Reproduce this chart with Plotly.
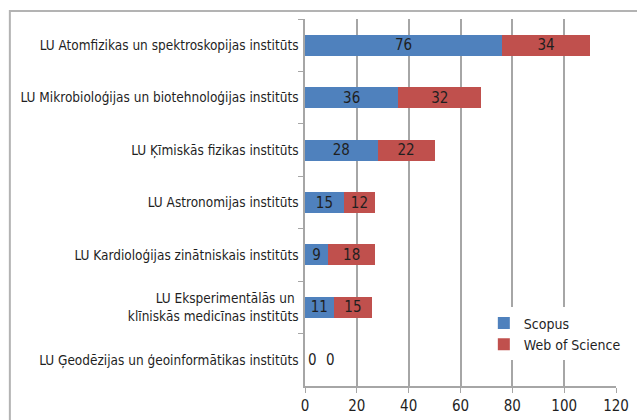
import plotly.graph_objects as go

categories = [
    "LU Atomfizikas un spektroskopijas institūts",
    "LU Mikrobioloģijas un biotehnoloģijas institūts",
    "LU Ķīmiskās fizikas institūts",
    "LU Astronomijas institūts",
    "LU Kardioloģijas zinātniskais institūts",
    "LU Eksperimentālās un <br>klīniskās medicīnas institūts",
    "LU Ģeodēzijas un ģeoinformātikas institūts",
]
scopus = [76, 36, 28, 15, 9, 11, 0]
wos = [34, 32, 22, 12, 18, 15, 0]
x_ticks = [0, 20, 40, 60, 80, 100, 120]

FONT = "DejaVu Sans Condensed, Liberation Sans Narrow, sans-serif"
TXT = "#1f1f1f"
BARFONT = dict(color=TXT, size=15, family=FONT)

fig = go.Figure()
fig.add_trace(go.Bar(
    y=categories, x=scopus, orientation="h", name="Scopus",
    marker=dict(color="#4F81BD", line=dict(width=0)),
    text=[str(v) if v else "" for v in scopus], textposition="inside",
    insidetextanchor="middle", textfont=BARFONT, textangle=0,
    constraintext="none",
))
fig.add_trace(go.Bar(
    y=categories, x=wos, orientation="h", name="Web of Science",
    marker=dict(color="#C0504D", line=dict(width=0)),
    text=[str(v) if v else "" for v in wos], textposition="inside",
    insidetextanchor="middle", textfont=BARFONT, textangle=0,
    constraintext="none",
))

# zero-value labels (bars of zero width can't hold inside text)
for cat, s, w in zip(categories, scopus, wos):
    if s == 0:
        fig.add_annotation(x=0, y=cat, text=str(s), showarrow=False, xanchor="center",
                           xshift=7, font=BARFONT)
    if w == 0:
        fig.add_annotation(x=s, y=cat, text=str(w), showarrow=False, xanchor="center",
                           xshift=25, font=BARFONT)

# outer chart border (only top and left edges fall inside the picture)
fig.add_shape(type="rect", xref="paper", yref="paper",
              x0=-0.949, x1=1.12, y0=-0.14, y1=1.022,
              line=dict(color="#B3B3B3", width=2), fillcolor="rgba(0,0,0,0)", layer="above")

fig.update_layout(
    width=637, height=420,
    barmode="stack", bargap=0.6,
    margin=dict(l=305, r=21, t=19, b=34, autoexpand=False),
    paper_bgcolor="white", plot_bgcolor="white",
    font=dict(family=FONT, size=13.5, color=TXT),
    uniformtext=dict(mode="show", minsize=15),
    legend=dict(x=0.575, y=0.214, xanchor="left", yanchor="top", traceorder="normal",
                bgcolor="white", font=dict(size=14, family=FONT, color=TXT),
                itemwidth=30, tracegroupgap=0),
    xaxis=dict(range=[0, 120], tickvals=x_ticks, showgrid=True, gridcolor="#A6A6A6", gridwidth=1.5,
               showline=True, linecolor="#A6A6A6", linewidth=1.5, automargin=False,
               ticks="outside", ticklen=5, tickcolor="#A6A6A6", zeroline=False,
               tickfont=dict(size=15)),
    yaxis=dict(autorange="reversed", showline=True, linecolor="#A6A6A6", linewidth=1.5,
               ticks="outside", ticklen=5, tickcolor="#A6A6A6", tickson="boundaries",
               showgrid=False, tickfont=dict(size=13.5), ticklabelstandoff=2, automargin=False),
    showlegend=True,
)

fig.write_html("out.html", config={"displayModeBar": False},
               post_script="document.body.style.margin='0';"
                           "document.body.style.overflow='hidden';"
                           "document.documentElement.style.overflow='hidden';")
